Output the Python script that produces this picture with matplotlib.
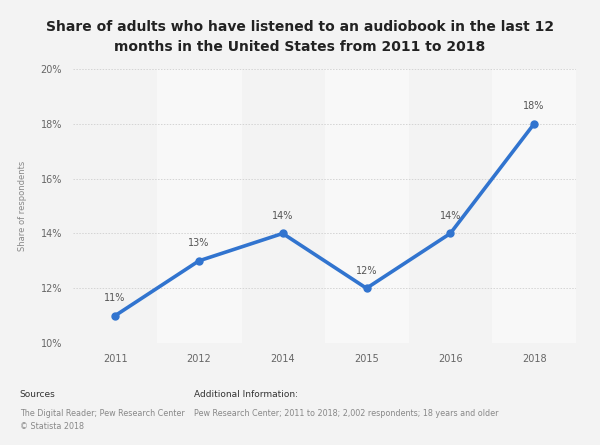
import matplotlib.pyplot as plt

years = ["2011", "2012", "2014", "2015", "2016", "2018"]
share = [11, 13, 14, 12, 14, 18]
yticks = [10, 12, 14, 16, 18, 20]

fig = plt.figure(figsize=(6, 4.45), dpi=100, facecolor="#f3f3f3")
ax = fig.add_axes([0.122, 0.229, 0.838, 0.616])
ax.set_facecolor("#f3f3f3")

x = list(range(len(years)))
for i in x:
    if i % 2 == 1:
        ax.axvspan(i - 0.5, i + 0.5, color="#f8f8f8", zorder=0)

ax.plot(x, share, color="#3174cf", lw=2.6, marker="o", ms=5, zorder=3)
for xi, v in zip(x, share):
    ax.annotate(f"{v}%", (xi, v), xytext=(0, 9), textcoords="offset points",
                ha="center", va="bottom", fontsize=7, color="#555555")

ax.set_xlim(-0.5, len(years) - 0.5)
ax.set_ylim(10, 20)
ax.set_yticks(yticks)
ax.set_yticklabels([f"{t}%" for t in yticks])
ax.set_xticks(x)
ax.set_xticklabels(years)
ax.tick_params(length=0, labelsize=7, colors="#666666", pad=8)
ax.grid(axis="y", color="#d4d4d4", lw=0.7, ls=(0, (1.5, 1.5)))
ax.set_axisbelow(True)
for s in ax.spines.values():
    s.set_visible(False)
ax.set_ylabel("Share of respondents", fontsize=6, color="#888888", labelpad=10)

fig.text(0.5, 0.955, "Share of adults who have listened to an audiobook in the last 12\n"
         "months in the United States from 2011 to 2018",
         ha="center", va="top", fontsize=10, fontweight="bold", color="#222222",
         linespacing=1.5)

fig.text(0.033, 0.108, "Sources", fontsize=6.5, color="#333333")
fig.text(0.033, 0.08, "The Digital Reader; Pew Research Center\n\u00a9 Statista 2018",
         fontsize=5.8, color="#888888", va="top", linespacing=1.5)
fig.text(0.323, 0.108, "Additional Information:", fontsize=6.5, color="#333333")
fig.text(0.323, 0.08, "Pew Research Center; 2011 to 2018; 2,002 respondents; 18 years and older",
         fontsize=5.8, color="#888888", va="top")

fig.savefig("out.png", dpi=100, facecolor=fig.get_facecolor())
